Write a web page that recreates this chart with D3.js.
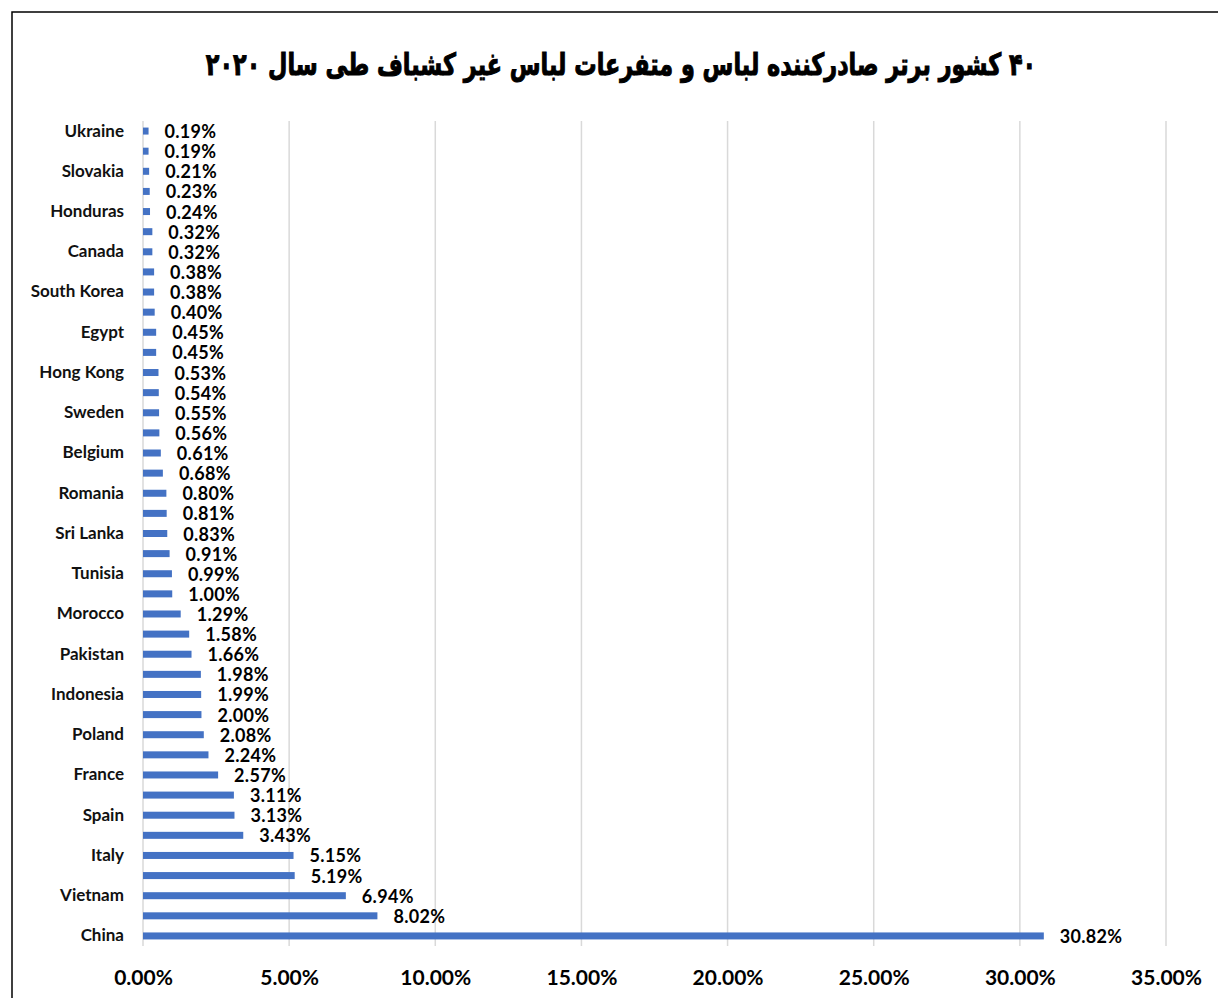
<!DOCTYPE html>
<html><head><meta charset="utf-8">
<script src="https://cdn.jsdelivr.net/npm/d3@7/dist/d3.min.js"></script>
<style>body{margin:0;background:#fff}svg{display:block}</style>
</head><body>
<script>
const title = "۴۰ کشور برتر صادرکننده لباس و متفرعات لباس غیر کشباف طی سال ۲۰۲۰";
// Ordered from largest (bottom) to smallest (top)
const countries = ["China","Bangladesh","Vietnam","Germany","Italy","Turkey","Spain","India","France","Netherlands",
  "Poland","Cambodia","Indonesia","Denmark","Pakistan","United States","Morocco","Myanmar","Tunisia","United Kingdom",
  "Sri Lanka","Mexico","Romania","Portugal","Belgium","Japan","Sweden","Jordan","Hong Kong","Czech Republic",
  "Egypt","Switzerland","South Korea","Philippines","Canada","Bulgaria","Honduras","Austria","Slovakia","Madagascar","Ukraine"];
const shares = [30.82,8.02,6.94,5.19,5.15,3.43,3.13,3.11,2.57,2.24,
  2.08,2.00,1.99,1.98,1.66,1.58,1.29,1.00,0.99,0.91,
  0.83,0.81,0.80,0.68,0.61,0.56,0.55,0.54,0.53,0.45,
  0.45,0.40,0.38,0.38,0.32,0.32,0.24,0.23,0.21,0.19,0.19];
const xTicks = [0,5,10,15,20,25,30,35];

const W = 1218, H = 998;
const svg = d3.select("body").append("svg").attr("width", W).attr("height", H);
svg.append("rect").attr("x", 12).attr("y", 12).attr("width", 1230).attr("height", 1000)
  .attr("fill", "#fff").attr("stroke", "#000").attr("stroke-width", 1.5);

const plot = {left: 143, right: 1166, top: 121, bottom: 946};
const x = d3.scaleLinear().domain([0, 35]).range([plot.left, plot.right]);
const y = d3.scaleBand().domain(countries.slice().reverse()).range([plot.top, plot.bottom]);

svg.append("g").attr("transform", "translate(621,75) scale(0.77,1.05)")
  .append("text").attr("x", 0).attr("y", 0).attr("text-anchor", "middle")
  .attr("direction", "rtl").attr("font-family", "DejaVu Sans").attr("font-weight", "bold")
  .attr("font-size", 29).attr("fill", "#000").attr("stroke", "#000").attr("stroke-width", 1).text(title);

// grid
svg.append("g").selectAll("line").data(xTicks).join("line")
  .attr("x1", d => x(d)).attr("x2", d => x(d)).attr("y1", plot.top).attr("y2", plot.bottom)
  .attr("stroke", "#d9d9d9").attr("stroke-width", 1.5);

// x axis
const xAxis = d3.axisBottom(x).tickValues(xTicks).tickSize(0).tickFormat(d => d.toFixed(2) + "%");
const gx = svg.append("g").attr("transform", `translate(0,${plot.bottom})`).call(xAxis);
gx.select(".domain").remove();
gx.selectAll("text").attr("dy", 0).attr("y", 39).attr("font-family", "Lato").attr("font-weight", "bold")
  .attr("font-size", 21).attr("fill", "#000");

// y axis
const yAxis = d3.axisLeft(y).tickSize(0).tickFormat((d) => (countries.indexOf(d) % 2 === 0 ? d : ""));
const gy = svg.append("g").attr("transform", `translate(${plot.left - 19},0)`).call(yAxis);
gy.select(".domain").remove();
gy.selectAll("text").attr("x", 0).attr("font-family", "Lato").attr("font-weight", "bold")
  .attr("font-size", 17).attr("fill", "#111");

// bars
const bh = 7;
svg.append("g").selectAll("rect").data(countries).join("rect")
  .attr("x", x(0)).attr("y", d => y(d) + y.bandwidth() / 2 - bh / 2)
  .attr("width", (d, i) => x(shares[i]) - x(0)).attr("height", bh).attr("fill", "#4472c4");

// value labels
svg.append("g").selectAll("text").data(countries).join("text")
  .attr("x", (d, i) => x(shares[i]) + 16).attr("y", d => y(d) + y.bandwidth() / 2 + 7)
  .attr("font-family", "Lato").attr("font-weight", "bold").attr("font-size", 18)
  .attr("letter-spacing", 0.3).attr("fill", "#000")
  .text((d, i) => shares[i].toFixed(2) + "%");
</script>
</body></html>
